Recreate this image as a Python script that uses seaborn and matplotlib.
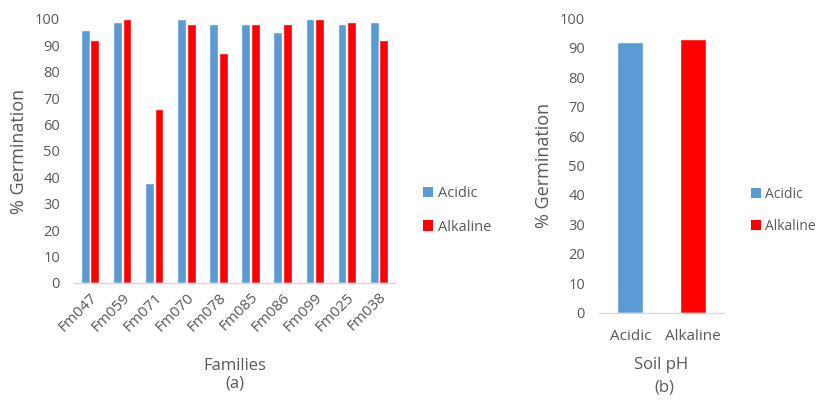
import matplotlib
matplotlib.use("Agg")
import matplotlib.pyplot as plt
import seaborn as sns
import pandas as pd
from matplotlib.patches import Patch

families = ["Fm047", "Fm059", "Fm071", "Fm070", "Fm078", "Fm085", "Fm086", "Fm099", "Fm025", "Fm038"]
acidic = [96, 99, 38, 100, 98, 98, 95, 100, 98, 99]
alkaline = [92, 100, 66, 98, 87, 98, 98, 100, 99, 92]
soil_ph = ["Acidic", "Alkaline"]
soil_values = [92, 93]
y_ticks = list(range(0, 101, 10))

BLUE = "#5B9BD5"
RED = "#FF0000"
TXT = "#595959"

sns.set_theme(style="white")
plt.rcParams["font.family"] = ["Open Sans", "DejaVu Sans"]
FS = 10.5
LFS = 13

df_a = pd.DataFrame({
    "Family": families * 2,
    "pH": ["Acidic"] * len(families) + ["Alkaline"] * len(families),
    "Germ": acidic + alkaline,
})
df_b = pd.DataFrame({"pH": soil_ph, "Germ": soil_values})

fig = plt.figure(figsize=(8.18, 4.01), dpi=100)
ax1 = fig.add_axes([74/818, 1-283/401, (395-74)/818, (283-19)/401])
ax2 = fig.add_axes([599/818, 1-312.7/401, (724-599)/818, (312.7-18.3)/401])

sns.barplot(data=df_a, x="Family", y="Germ", hue="pH", order=families,
            hue_order=soil_ph, palette=[BLUE, RED], width=0.6, gap=0.08,
            ax=ax1, legend=False, saturation=1)
sns.barplot(data=df_b, x="pH", y="Germ", hue="pH", order=soil_ph,
            palette=[BLUE, RED], width=0.41, ax=ax2, legend=False, saturation=1)

for ax in (ax1, ax2):
    ax.set_ylim(0, 100)
    ax.set_yticks(y_ticks)
    ax.tick_params(axis="both", colors=TXT, labelsize=FS, length=0)
    ax.tick_params(axis="y", pad=10)
    for s in ("top", "right", "left"):
        ax.spines[s].set_visible(False)
    ax.spines["bottom"].set_color("#D9D9D9")
    ax.spines["bottom"].set_linewidth(1)
    ax.set_ylabel("% Germination", color=TXT, fontsize=LFS, labelpad=5)
    ax.grid(False)

ax1.set_xlim(-0.5, len(families) - 0.5)
ax2.set_xlim(-0.5, 1.5)
ax1.tick_params(axis="x", labelsize=11, pad=5)
for lab in ax1.get_xticklabels():
    lab.set_rotation(45)
    lab.set_ha("right")
    lab.set_rotation_mode("anchor")
ax2.tick_params(axis="x", labelsize=11, pad=12)
ax1.set_xlabel("Families", color=TXT, fontsize=12, labelpad=17)
ax2.set_xlabel("Soil pH", color=TXT, fontsize=12, labelpad=9)

fig.text(235/818, 1-384/401, "(a)", color=TXT, fontsize=12, ha="center", va="center")
fig.text(664/818, 1-387/401, "(b)", color=TXT, fontsize=12, ha="center", va="center")

handles = [Patch(facecolor=BLUE, edgecolor="none"), Patch(facecolor=RED, edgecolor="none")]
for xpos, yc, fs in ((423/818, 210.5, FS), (751/818, 210.5, 10)):
    fig.legend(handles, soil_ph, loc="center left", bbox_to_anchor=(xpos, 1-yc/401),
               frameon=False, fontsize=fs, labelcolor=TXT, handlelength=0.7,
               handleheight=0.7, handletextpad=0.3, labelspacing=1.25, borderpad=0,
               borderaxespad=0)

fig.savefig("out.png", dpi=100, facecolor="white")
